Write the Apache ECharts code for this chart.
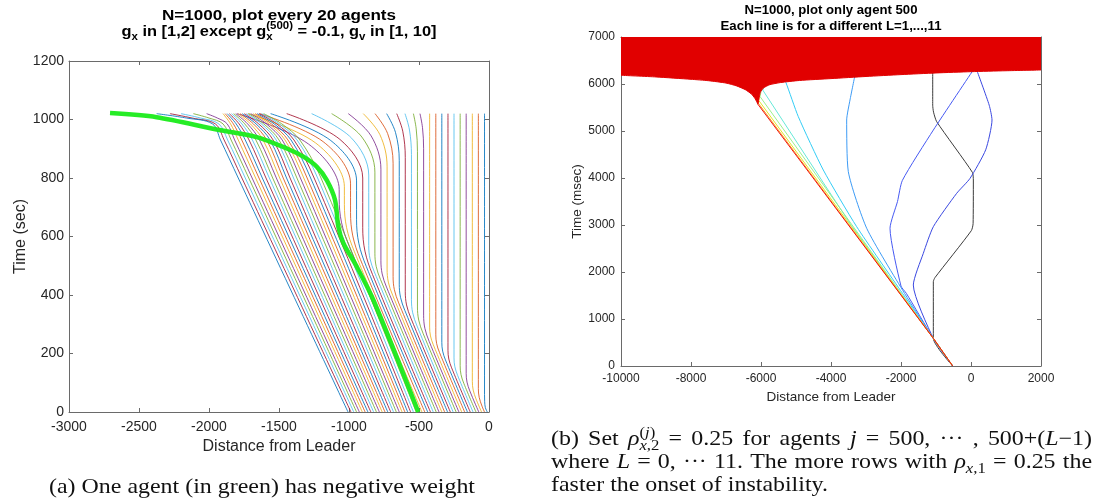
<!DOCTYPE html>
<html>
<head>
<meta charset="utf-8">
<script src="https://cdn.jsdelivr.net/npm/echarts/dist/echarts.min.js"></script>
<style>
  html, body { margin: 0; padding: 0; background: #fff; }
  #chart { width: 1096px; height: 504px; }
</style>
</head>
<body>
<div id="chart"></div>
<script>
// ---------- (a) trajectories of every 20th agent, agent 500 highlighted ----------
const aDistTicks = [-3000, -2500, -2000, -1500, -1000, -500, 0];
const aTimeTicks = [0, 200, 400, 600, 800, 1000, 1200];

// agents ahead of agent 500 (1, 21, ..., 481): [distance, time]
const leadAgents = [
  [[-12,0],[-26,15],[-31,35],[-32,60],[-32,1020]],
  [[-32,0],[-50,20],[-70,50],[-76,80],[-76,1020]],
  [[-53,0],[-93,45],[-113,75],[-119,105],[-119,1020]],
  [[-73,0],[-137,72],[-157,102],[-163,132],[-163,1020]],
  [[-93,0],[-180,98],[-200,128],[-206,158],[-206,1020]],
  [[-114,0],[-224,125],[-244,155],[-250,185],[-250,1020]],
  [[-134,0],[-267,151],[-287,181],[-293,211],[-293,1020]],
  [[-154,0],[-311,178],[-331,208],[-337,238],[-337,1020]],
  [[-174,0],[-354,204],[-374,234],[-380,264],[-380,1020]],
  [[-195,0],[-398,230],[-418,260],[-424,290],[-424,1020]],
  [[-215,0],[-427,241],[-458,286],[-467,331],[-467,900],[-475,972],[-493,1020]],
  [[-235,0],[-471,269],[-502,314],[-511,359],[-511,890],[-520,968],[-540,1020]],
  [[-256,0],[-514,294],[-545,339],[-554,384],[-554,880],[-568,964],[-600,1020]],
  [[-276,0],[-558,321],[-589,366],[-598,411],[-598,870],[-616,960],[-659,1020]],
  [[-296,0],[-601,347],[-632,392],[-641,437],[-641,860],[-668,956],[-731,1020]],
  [[-317,0],[-645,373],[-676,418],[-685,463],[-685,850],[-724,952],[-814,1020]],
  [[-337,0],[-688,399],[-719,444],[-728,489],[-728,840],[-779,948],[-898,1020]],
  [[-357,0],[-732,427],[-763,472],[-772,517],[-772,830],[-842,944],[-1005,1020]],
  [[-377,0],[-775,453],[-806,498],[-815,543],[-815,820],[-908,940],[-1124,1020]],
  [[-398,0],[-819,479],[-850,524],[-859,569],[-859,810],[-981,936],[-1267,1020]],
  [[-418,0],[-832,470],[-886,550],[-902,630],[-902,800],[-1065,932],[-1445,1020]],
  [[-438,0],[-876,497],[-930,577],[-946,657],[-946,790],[-1130,928],[-1560,1020]],
  [[-459,0],[-919,522],[-973,602],[-989,682],[-989,780],[-1184,924],[-1640,1020]],
  [[-479,0],[-963,550],[-1017,630],[-1033,710],[-1033,770],[-1239,920],[-1720,1020]],
  [[-499,0],[-1000,569],[-1054,649],[-1070,729],[-1070,760],[-1289,916],[-1800,1020]]
];

// agents behind agent 500 (501, 521, ..., 981)
const trailAgents = [
  [[-520,0],[-1200,800],[-1351,930],[-1480,985],[-1610,1020]],
  [[-540,0],[-1224,800],[-1371,930],[-1498,985],[-1625,1020]],
  [[-560,0],[-1249,800],[-1393,930],[-1517,985],[-1641,1020]],
  [[-581,0],[-1274,800],[-1414,930],[-1535,985],[-1656,1020]],
  [[-601,0],[-1299,800],[-1436,930],[-1554,985],[-1671,1020]],
  [[-621,0],[-1323,800],[-1457,930],[-1572,985],[-1686,1020]],
  [[-641,0],[-1347,800],[-1477,930],[-1590,985],[-1702,1020]],
  [[-662,0],[-1372,800],[-1500,930],[-1609,985],[-1717,1020]],
  [[-682,0],[-1396,800],[-1520,930],[-1626,985],[-1732,1020]],
  [[-702,0],[-1421,800],[-1542,930],[-1645,985],[-1748,1020]],
  [[-723,0],[-1446,800],[-1564,930],[-1664,985],[-1763,1020]],
  [[-743,0],[-1470,800],[-1588,930],[-1683,985],[-1778,1020]],
  [[-763,0],[-1495,800],[-1614,930],[-1704,985],[-1794,1020]],
  [[-783,0],[-1519,800],[-1639,930],[-1724,985],[-1809,1020]],
  [[-804,0],[-1545,800],[-1665,930],[-1745,985],[-1824,1020]],
  [[-824,0],[-1569,800],[-1690,930],[-1765,985],[-1839,1020]],
  [[-844,0],[-1593,800],[-1714,930],[-1785,985],[-1855,1020]],
  [[-865,0],[-1619,800],[-1741,930],[-1806,985],[-1870,1020]],
  [[-885,0],[-1643,800],[-1766,930],[-1826,985],[-1885,1020]],
  [[-905,0],[-1667,800],[-1791,930],[-1846,985],[-1900,1020]],
  [[-926,0],[-1692,800],[-1817,930],[-1870,985],[-1940,1005],[-2017,1020]],
  [[-946,0],[-1716,800],[-1842,930],[-1900,985],[-2000,1005],[-2112,1020]],
  [[-966,0],[-1741,800],[-1867,930],[-1930,985],[-2060,1005],[-2200,1020]],
  [[-986,0],[-1765,800],[-1892,930],[-1955,985],[-2120,1005],[-2279,1020]],
  [[-1007,0],[-1791,800],[-1918,930],[-1975,985],[-2160,1005],[-2374,1020]]
];

// agent 500, the one with negative position gain
const agent500 = [[-505,0],[-826,383],[-945,497],[-1040,577],[-1076,633],[-1100,725],
  [-1159,793],[-1231,839],[-1326,873],[-1440,900],[-1659,940],[-1945,966],[-2374,1008],[-2707,1022]];

const lineColors = ['#0072BD', '#D95319', '#EDB120', '#7E2F8E', '#77AC30', '#4DBEEE', '#A2142F'];

// ---------- (b) agent 500 for several L ----------
const bDistTicks = [-10000, -8000, -6000, -4000, -2000, 0, 2000];
const bTimeTicks = [0, 1000, 2000, 3000, 4000, 5000, 6000, 7000];

// lower edge of the unstable (red) trace, which fills everything above it
const bRedEdge = [[-10000,6185],[-9000,6150],[-8000,6100],[-7500,6070],[-7000,6020],[-6700,5960],
  [-6450,5880],[-6280,5790],[-6180,5700],[-6120,5620],[-6090,5570],[-6060,5680],[-6020,5820],
  [-5930,5915],[-5750,5985],[-5450,6030],[-4900,6075],[-4000,6115],[-3000,6160],[-2000,6200],
  [-1000,6235],[0,6262],[1000,6282],[2000,6298]];
const bRed = [[-523,0],[-1076,589],[-6090,5570]];
const bOrange = [[-523,0],[-1076,589],[-6085,5600],[-6070,5700]];
const bYellow = [[-523,0],[-1076,589],[-6065,5650],[-6050,5760]];
const bLime = [[-523,0],[-1076,589],[-6025,5730],[-6000,5840]];
const bAqua = [[-523,0],[-1076,589],[-3420,2990],[-5951,5872],[-5900,5960]];
const bCyan = [[-523,0],[-1076,589],[-1957,1546],[-3266,2964],[-4220,4170],[-4934,5305],[-5286,6028],[-5350,6100]];
const bSky = [[-523,0],[-1076,589],[-1900,1546],[-2980,2930],[-3505,4134],[-3552,5234],[-3457,5660],[-3314,6191]];
const bBlueA = [[-523,0],[-1076,589],[-1848,1546],[-2000,1700],[-2314,2930],[-2100,3500],[-1960,3950],[-1076,5020],[67,6300]];
const bBlueB = [[-523,0],[-1076,589],[-1648,1723],[-1362,2398],[-1076,2964],[-409,3674],[-30,3990],[420,4600],[600,5234],[520,5550],[162,6300]];
const bBlack = [[-523,0],[-1076,589],[-1076,1794],[-1030,1880],[10,2880],[60,3030],[67,3957],[40,4120],[-980,5198],[-1070,5400],[-1094,5550],[-1094,6300]];

// [path, colour, smoothing]
const bTraces = [
  [bBlack, '#3c3c3c', 0.2], [bBlueB, '#3a48e0', 0.2], [bBlueA, '#4659f2', 0.2], [bSky, '#3d9bf5', 0.2],
  [bCyan, '#33ccf5', 0.2], [bAqua, '#66e8d8', 0], [bLime, '#9cf08c', 0], [bYellow, '#e4e42a', 0],
  [bOrange, '#ff9a1a', 0]
];

// ---------- text ----------
const SANS = "'Liberation Sans', Arial, Helvetica, sans-serif";
const SERIF = "'Liberation Serif', 'Times New Roman', serif";

const titleA1 = ['N=1000, plot every 20 agents'];
const titleA2 = ['g', {sub: [['x', 0]]}, ' in [1,2] except g', {sup: [['(500)', 0]], sub: [['x', 0]]},
  ' = -0.1, g', {sub: [['v', 0]]}, ' in [1, 10]'];
const titleB1 = ['N=1000, plot only agent 500'];
const titleB2 = ['Each line is for a different L=1,...,11'];
const captionA = '(a) One agent (in green) has negative weight';
const captionB1 = ['(b) Set ', {t: 'ρ', it: 1}, {sup: [['(', 0], ['j', 1], [')', 0]], sub: [['x', 1], [',2', 0]]},
  ' = 0.25 for agents ', {t: 'j', it: 1}, ' = 500, ··· , 500+(', {t: 'L', it: 1}, '−1)'];
const captionB2 = ['where ', {t: 'L', it: 1}, ' = 0, ··· 11. The more rows with ', {t: 'ρ', it: 1},
  {sub: [['x', 1], [',1', 0]]}, ' = 0.25 the'];
const captionB3 = ['faster the onset of instability.'];

const meter = document.createElement('canvas').getContext('2d');
function textW(s, font) { meter.font = font; return meter.measureText(s).width; }
function fontSpec(o, size, italic) {
  return (italic ? 'italic ' : '') + (o.bold ? 'bold ' : '') + size + 'px ' + o.family;
}
// lays out a line of plain runs, italic runs and stacked sub/superscripts as graphic texts
function typeset(runs, o) {
  const pieces = [];
  const small = o.size * o.scriptScale;
  for (const r0 of runs) {
    const r = typeof r0 === 'string' ? {t: r0} : r0;
    if (r.t !== undefined) {
      for (const part of r.t.split(/( )/)) {
        if (!part) continue;
        const font = fontSpec(o, o.size, r.it);
        if (part === ' ') pieces.push({space: true, w: textW(' ', font), items: []});
        else pieces.push({w: textW(part, font), items: [{text: part, font, dx: 0, dy: 0, size: o.size}]});
      }
    } else {
      const items = [];
      let w = 0;
      for (const [key, dy] of [['sup', -o.supShift], ['sub', o.subShift]]) {
        if (!r[key]) continue;
        let cx = 0;
        for (const [txt, it] of r[key]) {
          const font = fontSpec(o, small, it);
          items.push({text: txt, font, dx: cx, dy, size: small});
          cx += textW(txt, font);
        }
        w = Math.max(w, cx);
      }
      pieces.push({w, items});
    }
  }
  const natural = pieces.reduce((s, p) => s + p.w, 0);
  const sx = o.fitWidth ? o.fitWidth / natural : (o.scaleX || 1);
  const spaces = pieces.filter(p => p.space);
  if (o.justify && spaces.length) {
    const extra = (o.justify / sx - natural) / spaces.length;
    spaces.forEach(p => { p.w += extra; });
  }
  const total = pieces.reduce((s, p) => s + p.w, 0);
  let x = o.align === 'center' ? o.x - total * sx / 2 : o.x;
  const out = [];
  for (const p of pieces) {
    for (const it of p.items) {
      out.push({
        type: 'text', silent: true,
        x: x + it.dx * sx, y: o.baseline + it.dy - 0.33 * it.size, scaleX: sx,
        style: {text: it.text, font: it.font, fill: o.color, textAlign: 'left', verticalAlign: 'middle'}
      });
    }
    x += p.w * sx;
  }
  return out;
}

const titleAStyle = {family: SANS, bold: true, size: 15, scriptScale: 0.7, supShift: 7.5, subShift: 4,
  align: 'center', x: 279, color: '#000'};
const titleBStyle = {family: SANS, bold: true, size: 12.5, scriptScale: 0.7, supShift: 6, subShift: 3,
  align: 'center', x: 831, color: '#000'};
const capSize = 21;
const capStyle = {family: SERIF, bold: false, size: capSize, scriptScale: 0.7, supShift: 8, subShift: 5,
  color: '#111', scaleX: 426 / textW(captionA, capSize + 'px ' + SERIF)};

const graphicEls = [].concat(
  typeset(titleA1, Object.assign({}, titleAStyle, {baseline: 21, fitWidth: 234})),
  typeset(titleA2, Object.assign({}, titleAStyle, {baseline: 37, fitWidth: 315})),
  typeset(titleB1, Object.assign({}, titleBStyle, {baseline: 15, fitWidth: 173})),
  typeset(titleB2, Object.assign({}, titleBStyle, {baseline: 31, fitWidth: 221})),
  typeset([captionA], Object.assign({}, capStyle, {align: 'center', x: 262, baseline: 494})),
  typeset(captionB1, Object.assign({}, capStyle, {align: 'left', x: 551, baseline: 446, justify: 541})),
  typeset(captionB2, Object.assign({}, capStyle, {align: 'left', x: 551, baseline: 469, justify: 541})),
  typeset(captionB3, Object.assign({}, capStyle, {align: 'left', x: 551, baseline: 492}))
);

// ---------- axes ----------
const AXIS_GRAY = '#6a6a6a';
function valueAxis(ticks, grid, position, fontSize, labelMargin, showLabel, name, nameGap, nameSize) {
  return {
    type: 'value', gridIndex: grid, position,
    min: ticks[0], max: ticks[ticks.length - 1], interval: ticks[1] - ticks[0],
    axisLine: {show: true, onZero: false, lineStyle: {color: AXIS_GRAY, width: 1}},
    axisTick: {show: true, inside: true, length: 4, lineStyle: {color: AXIS_GRAY, width: 1}},
    splitLine: {show: false},
    axisLabel: {show: showLabel, fontSize, fontFamily: SANS, color: '#262626', margin: labelMargin,
      showMinLabel: true, showMaxLabel: true, formatter: v => String(v)},
    name: name || '', nameLocation: 'middle', nameGap: nameGap || 0,
    nameTextStyle: {fontSize: nameSize, fontFamily: SANS, color: '#262626'}
  };
}

const series = [];
leadAgents.concat(trailAgents).forEach((path, i) => {
  series.push({
    type: 'line', xAxisIndex: 0, yAxisIndex: 0, data: path, showSymbol: false, smooth: 0.35,
    silent: true, z: 2, lineStyle: {width: 1, color: lineColors[i % lineColors.length], opacity: 0.85}
  });
});
series.push({
  type: 'line', xAxisIndex: 0, yAxisIndex: 0, data: agent500, showSymbol: false, smooth: 0.3,
  silent: true, z: 3, lineStyle: {width: 4.5, color: '#1aeb1a', opacity: 0.95}
});
bTraces.forEach(([path, color, smooth]) => {
  series.push({
    type: 'line', xAxisIndex: 1, yAxisIndex: 1, data: path, showSymbol: false, smooth,
    silent: true, z: 2, lineStyle: {width: 1, color}
  });
});
series.push({
  type: 'line', xAxisIndex: 1, yAxisIndex: 1, data: bRedEdge, showSymbol: false, smooth: 0.2,
  silent: true, z: 4, lineStyle: {width: 1, color: '#e10000'},
  areaStyle: {origin: 'end', color: '#e10000', opacity: 1}
});
series.push({
  type: 'line', xAxisIndex: 1, yAxisIndex: 1, data: bRed, showSymbol: false,
  silent: true, z: 5, lineStyle: {width: 1, color: '#ee1111'}
});

const option = {
  animation: false,
  backgroundColor: '#fff',
  grid: [
    {left: 69, top: 61, width: 420, height: 351, containLabel: false, outerBoundsMode: 'none'},
    {left: 621, top: 37, width: 420, height: 329, containLabel: false, outerBoundsMode: 'none'}
  ],
  xAxis: [
    valueAxis(aDistTicks, 0, 'bottom', 14, 8, true, 'Distance from Leader', 27, 16),
    valueAxis(bDistTicks, 1, 'bottom', 12, 7, true, 'Distance from Leader', 23, 13.5),
    valueAxis(aDistTicks, 0, 'top', 14, 8, false),
    valueAxis(bDistTicks, 1, 'top', 12, 7, false)
  ],
  yAxis: [
    valueAxis(aTimeTicks, 0, 'left', 14, 5, true, 'Time (sec)', 39, 16),
    valueAxis(bTimeTicks, 1, 'left', 12, 6, true, 'Time (msec)', 29, 13.5),
    valueAxis(aTimeTicks, 0, 'right', 14, 5, false),
    valueAxis(bTimeTicks, 1, 'right', 12, 6, false)
  ],
  series,
  graphic: {elements: graphicEls}
};

const chart = echarts.init(document.getElementById('chart'), null, {renderer: 'canvas'});
chart.setOption(option);
</script>
</body>
</html>
